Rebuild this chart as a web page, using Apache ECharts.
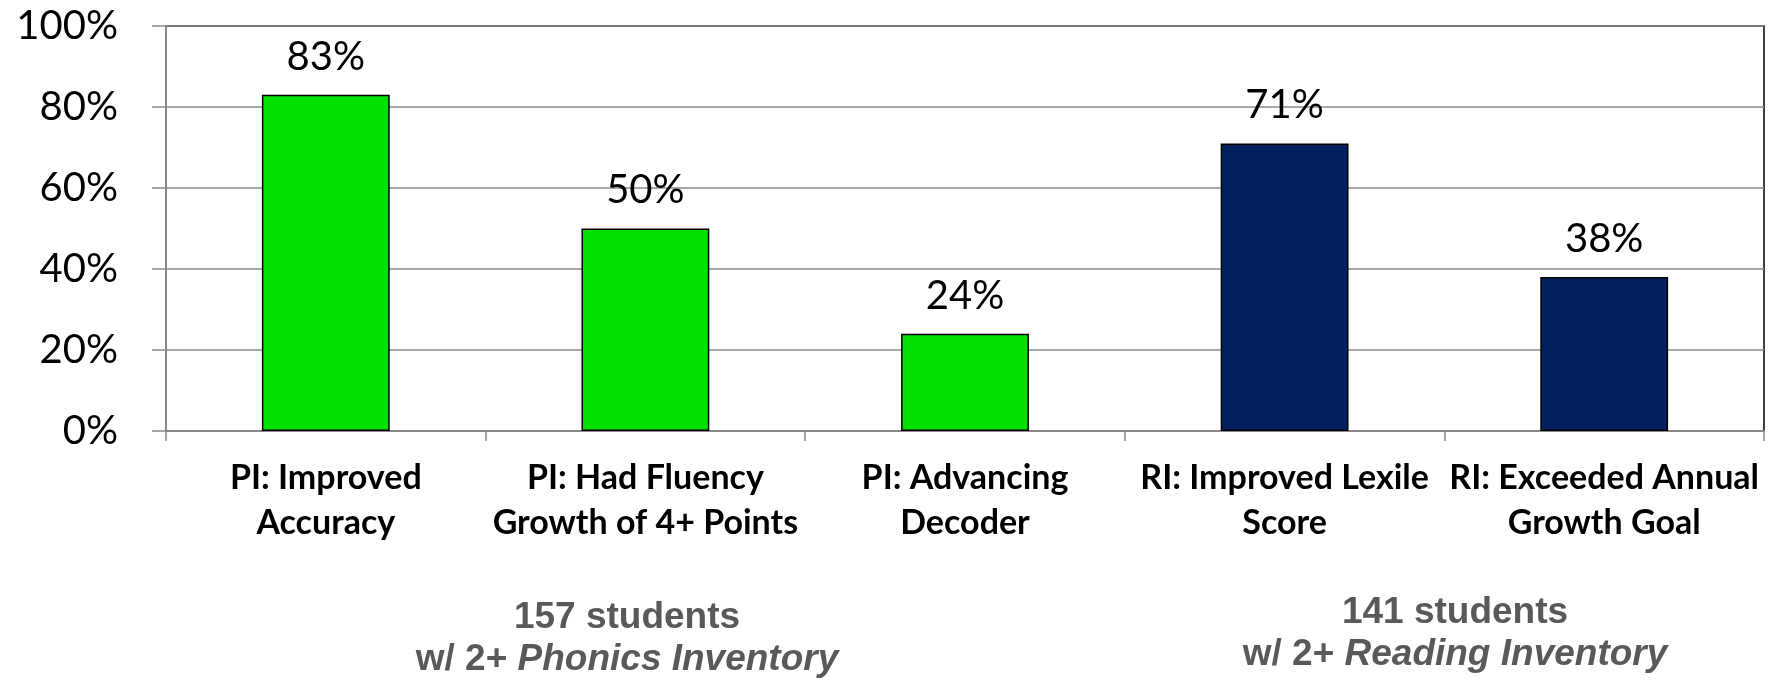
<!DOCTYPE html>
<html>
<head>
<meta charset="utf-8">
<script src="https://cdn.jsdelivr.net/npm/echarts@6/dist/echarts.min.js"></script>
<style>
	html, body { margin: 0; padding: 0; background: #fff; }
	#chart { width: 1779px; height: 680px; }
</style>
</head>
<body>
<div id="chart"></div>
<script>
	// categories and values (percent)
	var categories = [
		'PI: Improved\nAccuracy',
		'PI: Had Fluency\nGrowth of 4+ Points',
		'PI: Advancing\nDecoder',
		'RI: Improved Lexile\nScore',
		'RI: Exceeded Annual\nGrowth Goal'
	]
	var values = [83, 50, 24, 71, 38]
	var groups = ['PI', 'PI', 'PI', 'RI', 'RI']
	var yTicks = [0, 20, 40, 60, 80, 100]

	var groupColor = { PI: '#00E000', RI: '#002060' }

	var noteRich = {
		n: { fontFamily: 'Liberation Sans', fontWeight: 'bold', fontSize: 37, lineHeight: 42, fill: '#595959' },
		i: { fontFamily: 'Liberation Sans', fontWeight: 'bold', fontStyle: 'italic', fontSize: 37, lineHeight: 42, fill: '#595959' }
	}

	var chart = echarts.init(document.getElementById('chart'))
	var option = {
		animation: false,
		grid: {
			left: 166,
			right: 15,
			top: 26,
			bottom: 249,
			show: true,
			borderColor: '#000',
			borderWidth: 1.5
		},
		xAxis: {
			type: 'category',
			data: categories,
			axisLine: {
				lineStyle: { color: '#888', width: 2 }
			},
			axisTick: {
				show: true,
				length: 10,
				lineStyle: { color: '#888', width: 1.5 }
			},
			axisLabel: {
				interval: 0,
				margin: 25,
				color: '#000',
				fontFamily: 'Lato',
				fontWeight: 'bold',
				fontSize: 34,
				lineHeight: 45
			}
		},
		yAxis: {
			type: 'value',
			min: yTicks[0],
			max: yTicks[yTicks.length - 1],
			interval: 20,
			axisLine: {
				show: true,
				lineStyle: { color: '#888', width: 2 }
			},
			axisTick: {
				show: true,
				length: 14,
				lineStyle: { color: '#888', width: 1.5 }
			},
			axisLabel: {
				margin: 48,
				color: '#000',
				fontFamily: 'Lato',
				fontSize: 40,
				formatter: '{value}%'
			},
			splitLine: {
				show: true,
				lineStyle: { color: '#8a8a8a', width: 1.5 }
			}
		},
		series: [{
			type: 'bar',
			barWidth: '40%',
			data: values.map(function(v, i) {
				return {
					value: v,
					itemStyle: { color: groupColor[groups[i]] }
				}
			}),
			itemStyle: {
				borderColor: '#000',
				borderWidth: 1.5
			},
			label: {
				show: true,
				position: 'top',
				distance: 18,
				color: '#000',
				fontFamily: 'Lato',
				fontSize: 40,
				formatter: '{c}%'
			}
		}],
		graphic: [{
			type: 'text',
			x: 627,
			y: 597,
			style: {
				text: '{n|157 students}\n{n|w/ 2+ }{i|Phonics Inventory}',
				align: 'center',
				verticalAlign: 'top',
				rich: noteRich
			}
		}, {
			type: 'text',
			x: 1455,
			y: 592,
			style: {
				text: '{n|141 students}\n{n|w/ 2+ }{i|Reading Inventory}',
				align: 'center',
				verticalAlign: 'top',
				rich: noteRich
			}
		}]
	}
	chart.setOption(option)
</script>
</body>
</html>
